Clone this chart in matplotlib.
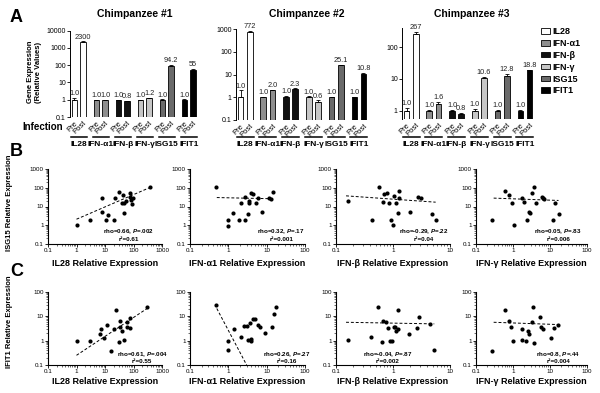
import matplotlib.pyplot as plt
import matplotlib.transforms as mtransforms
import numpy as np
from matplotlib.patches import Patch
from matplotlib.ticker import LogLocator, NullLocator, NullFormatter

plt.rcParams['font.family'] = ['Liberation Sans', 'DejaVu Sans']
plt.rcParams['mathtext.fontset'] = 'custom'
plt.rcParams['mathtext.it'] = 'Liberation Sans:bold:italic'
plt.rcParams['mathtext.rm'] = 'Liberation Sans:bold'

# ---- panel A data ----
genes = ['IL28', 'IFN-α1', 'IFN-β', 'IFN-γ', 'ISG15', 'IFIT1']
gene_colors = ['white', '#8e8e8e', '#111111', '#c6c6c6', '#6a6a6a', '#000000']
chimp_titles = ['Chimpanzee #1', 'Chimpanzee #2', 'Chimpanzee #3']

pre1 = [1.0, 1.0, 1.0, 1.0, 1.0, 1.0]
post1 = [2300, 1.0, 0.8, 1.2, 94.2, 55]
pre1_err = [0.3, 0.03, 0.03, 0.03, 0.08, 0.05]
post1_err = [150, 0.03, 0.04, 0.1, 8, 5]

pre2 = [1.0, 1.0, 1.0, 1.0, 1.0, 1.0]
post2 = [772, 2.0, 2.3, 0.6, 25.1, 10.8]
pre2_err = [1.0, 0.05, 0.15, 0.1, 0.05, 0.05]
post2_err = [40, 0.1, 0.15, 0.12, 2, 0.8]

pre3 = [1.0, 1.0, 1.0, 1.0, 1.0, 1.0]
post3 = [267, 1.6, 0.8, 10.6, 12.8, 18.8]
pre3_err = [0.25, 0.08, 0.04, 0.12, 0.05, 0.05]
post3_err = [40, 0.25, 0.04, 1.0, 1.0, 0.8]

ylims_A = [(0.1, 10000), (0.1, 1000), (0.55, 400)]
yticks_A = [[0.1, 1, 10, 100, 1000, 10000], [0.1, 1, 10, 100, 1000], [1, 10, 100]]

# ---- panel B / C data (x = cytokine, y = ISG15 or IFIT1) ----
b_xlabels = ['IL28 Relative Expression', 'IFN-α1 Relative Expression',
             'IFN-β Relative Expression', 'IFN-γ Relative Expression']

b1_x = [1, 3, 8, 8, 11, 13, 20, 23, 30, 38, 42, 45, 47, 55, 76, 78, 85, 89, 95, 390]
b1_y = [1, 2, 5, 29, 2, 3.6, 1.8, 28, 63, 16, 39, 15, 4.4, 19, 34, 52, 23, 14, 27, 104]
b2_x = [0.47, 1, 1, 1.3, 1.9, 2.1, 2.7, 2.8, 3.2, 3.4, 3.5, 4.0, 4.5, 5.2, 5.8, 7.7, 11.8, 12.7, 14.6]
b2_y = [108, 2, 0.9, 4.4, 2, 14.5, 33, 1.9, 3.9, 19, 16, 52, 46, 15, 28, 5.2, 28, 25, 63]
b3_x = [0.16, 0.42, 0.57, 0.68, 0.7, 0.77, 0.84, 0.92, 1.0, 1.05, 1.13, 1.2, 1.25, 1.3, 2.0, 2.7, 3.05, 4.8, 5.6]
b3_y = [19, 2, 105, 17, 45, 51, 15, 2, 1, 35, 15, 4.5, 29, 65, 5, 31, 27, 4, 1.9]
b4_x = [0.27, 0.62, 0.8, 0.92, 1.05, 1.8, 2.0, 2.4, 2.75, 2.8, 3.3, 3.7, 4.2, 5.9, 6.3, 6.8, 11.7, 14, 17.7]
b4_y = [1.85, 64, 42, 15, 1, 28, 18, 1.9, 4.8, 4.4, 52, 104, 16, 32, 28, 26, 1.9, 15, 3.9]

c1_x = [1, 3, 6.7, 7, 9.2, 11.4, 16, 20, 24.5, 30, 34, 34, 38, 47, 58, 61, 76, 76, 300]
c1_y = [1, 0.95, 1.9, 3.1, 1.3, 4.4, 0.39, 3, 18, 0.85, 6.2, 3.7, 2.6, 1.05, 6, 3.5, 3.2, 8.7, 24]
c2_x = [0.48, 1, 1, 1.4, 2.1, 2.5, 3.1, 3.2, 3.7, 3.8, 3.9, 4.5, 5.1, 6.1, 6.7, 8.9, 13.8, 15.5, 17]
c2_y = [30, 1.0, 0.4, 3, 1.45, 4, 4.2, 1.05, 5.5, 1.0, 1.2, 7.5, 8, 4.4, 3.7, 2.1, 3.7, 12, 25]
c3_x = [0.16, 0.41, 0.55, 0.64, 0.68, 0.75, 0.82, 0.88, 0.95, 1.05, 1.08, 1.13, 1.2, 1.24, 1.9, 2.6, 2.9, 4.5, 5.3]
c3_y = [1.1, 1.35, 24, 0.86, 6.3, 6, 3.4, 0.95, 1.0, 3.8, 3.5, 2.6, 3.1, 18.5, 1.9, 3.2, 9, 4.7, 0.4]
c4_x = [0.27, 0.62, 0.76, 0.88, 1.02, 1.75, 1.8, 2.2, 2.6, 2.64, 3.25, 3.5, 3.8, 5.4, 5.6, 6.3, 10.8, 12.7, 16.3]
c4_y = [0.39, 18, 6.3, 3.7, 1.0, 3, 1.05, 0.94, 2.6, 1.9, 5.6, 24, 0.83, 9, 3.5, 3.1, 1.3, 3.2, 4.5]

# dashed fit lines as drawn in the figure (end points)
b_fit_x = [[1, 390], [0.5, 13], [0.15, 5.6], [0.3, 17]]
b_fit_y = [[2.1, 105], [30, 26], [37, 17], [28, 21]]
c_fit_x = [[1, 300], [0.5, 3.0], [0.15, 5.3], [0.3, 16]]
c_fit_y = [[0.25, 21], [21, 0.1], [5.7, 4.9], [5.7, 4.6]]

b_stats = [('0.66', '.002', '0.61'), ('0.32', '.17', '0.001'),
           ('-0.29', '.22', '0.04'), ('0.05', '.83', '0.006')]
c_stats = [('0.61', '.004', '0.55'), ('0.26', '.27', '0.16'),
           ('-0.04', '.87', '0.002'), ('0.8', '.44', '0.004')]

scatter_xmax = [1000, 100, 10, 100]


def fmt_val(v):
    if v >= 10 and v == int(v):
        return str(int(v))
    return f'{v:.1f}'


def fmt_tick(t):
    return f'{t:g}'


fig = plt.figure(figsize=(6, 3.93), dpi=100)
W, H = 600.0, 393.0


def rect(left, top, width, height):
    return [left / W, 1 - (top + height) / H, width / W, height / H]


# ---------------- panel A ----------------
a_rects = [rect(70, 30.7, 127.6, 86.3), rect(236, 29, 132, 91), rect(402, 28, 132, 91)]
a_data = [(pre1, post1, pre1_err, post1_err), (pre2, post2, pre2_err, post2_err),
          (pre3, post3, pre3_err, post3_err)]
title_x = [135, 307, 472]
idx = np.arange(len(genes))
bw = 0.25
for k in range(3):
    ax = fig.add_axes(a_rects[k])
    pre, post, pe, qe = a_data[k]
    ymin, ymax = ylims_A[k]
    ax.set_yscale('log')
    xs_pre = idx - 0.2
    xs_post = idx + 0.2
    for xs, vals, errs in [(xs_pre, pre, pe), (xs_post, post, qe)]:
        vals = np.array(vals, dtype=float)
        ax.bar(xs, vals - ymin, bottom=ymin, width=bw, color=gene_colors,
               edgecolor='black', linewidth=0.6, zorder=2)
        ax.errorbar(xs, vals, yerr=[np.zeros(len(vals)), errs], fmt='none',
                    ecolor='black', elinewidth=0.6, capsize=1.2, capthick=0.6, zorder=3)
        for x, v, e in zip(xs, vals, errs):
            ax.text(x, (v + e) * 1.08, fmt_val(v), ha='center', va='bottom',
                    fontsize=5.3, color='#222222')
    ax.set_ylim(ymin, ymax)
    ax.set_xlim(-0.4, len(genes) - 0.6)
    ax.set_yticks(yticks_A[k])
    ax.set_yticklabels([fmt_tick(t) for t in yticks_A[k]], fontsize=5)
    ax.yaxis.set_minor_locator(NullLocator())
    ax.tick_params(axis='y', length=2, width=0.6, pad=1)
    ax.set_xticks(np.concatenate([xs_pre, xs_post]))
    ax.set_xticklabels(['Pre'] * 6 + ['Post'] * 6, rotation=45, ha='right',
                       rotation_mode='anchor', fontsize=5.5)
    ax.tick_params(axis='x', length=0, pad=2)
    for s in ['top', 'right', 'bottom']:
        ax.spines[s].set_visible(False)
    ax.spines['left'].set_linewidth(0.7)
    trans = mtransforms.blended_transform_factory(ax.transData, fig.transFigure)
    for i, g in enumerate(genes):
        ax.plot([i - 0.37, i + 0.37], [1 - 137 / H] * 2, color='black', lw=1.1,
                transform=trans, clip_on=False)
        ax.text(i, 1 - 145 / H, g, transform=trans, ha='center', va='center',
                fontsize=6, fontweight='bold')
    fig.text(title_x[k] / W, 1 - 14 / H, chimp_titles[k], ha='center', va='center',
             fontsize=7.5, fontweight='bold')

fig.text(34 / W, 1 - 72 / H, 'Gene Expression\n(Relative Values)', rotation=90,
         ha='center', va='center', fontsize=5.5, fontweight='bold', multialignment='center')
fig.text(63 / W, 1 - 127 / H, 'Infection', ha='right', va='center', fontsize=7,
         fontweight='bold')

handles = [Patch(facecolor=c, edgecolor='black', linewidth=0.6) for c in gene_colors]
fig.legend(handles, genes, loc='upper left', bbox_to_anchor=(541 / W, 1 - 27 / H),
           frameon=False, fontsize=6.5, prop={'weight': 'bold', 'size': 6.5},
           handlelength=1.0, handleheight=0.6, handletextpad=0.3, labelspacing=0.32,
           borderaxespad=0, borderpad=0)

# ---------------- panels B and C ----------------
col_rects = [(48, 114), (190, 115), (336, 114), (476, 111)]
b_xy = [(b1_x, b1_y), (b2_x, b2_y), (b3_x, b3_y), (b4_x, b4_y)]
c_xy = [(c1_x, c1_y), (c2_x, c2_y), (c3_x, c3_y), (c4_x, c4_y)]
b_anno = [(0.93, 0.125), (1.0, 0.125), (0.99, 0.125), (0.955, 0.125)]
c_anno = [(1.05, 0.11), (1.05, 0.11), (0.67, 0.11), (0.94, 0.11)]

rows = [
    (169, 75, 1000, b_xy, b_fit_x, b_fit_y, b_stats, b_anno, 263),
    (292, 73, 100, c_xy, c_fit_x, c_fit_y, c_stats, c_anno, 382),
]
for top, hgt, ymax, xy, fx, fy, stats, anno, xl_y in rows:
    for k in range(4):
        left, wid = col_rects[k]
        ax = fig.add_axes(rect(left, top, wid, hgt))
        ax.set_xscale('log')
        ax.set_yscale('log')
        x, y = xy[k]
        ax.plot(fx[k], fy[k], linestyle=(0, (3, 2)), color='black', lw=0.7, zorder=2)
        ax.scatter(x, y, s=9, color='black', zorder=3, linewidths=0)
        ax.set_xlim(0.1, scatter_xmax[k])
        ax.set_ylim(0.1, ymax)
        xt = [t for t in [0.1, 1, 10, 100, 1000] if t <= scatter_xmax[k]]
        yt = [t for t in [0.1, 1, 10, 100, 1000] if t <= ymax]
        ax.set_xticks(xt)
        ax.set_xticklabels([fmt_tick(t) for t in xt], fontsize=4.5)
        ax.set_yticks(yt)
        ax.set_yticklabels([fmt_tick(t) for t in yt], fontsize=4.5)
        for axis in [ax.xaxis, ax.yaxis]:
            axis.set_minor_locator(LogLocator(base=10, subs=np.arange(2, 10)))
            axis.set_minor_formatter(NullFormatter())
        ax.tick_params(which='major', length=2, width=0.6, pad=1)
        ax.tick_params(which='minor', length=1.1, width=0.4)
        for s in ['top', 'right']:
            ax.spines[s].set_visible(False)
        for s in ['left', 'bottom']:
            ax.spines[s].set_linewidth(0.8)
        rho, p, r2 = stats[k]
        ax.text(anno[k][0], anno[k][1], f'rho={rho}, $P$={p}\nr²={r2}',
                transform=ax.transAxes, ha='right', va='center', fontsize=4.5,
                fontweight='bold', multialignment='center', linespacing=1.15)
        fig.text((left + wid / 2) / W, 1 - xl_y / H, b_xlabels[k], ha='center',
                 va='center', fontsize=6.5, fontweight='bold')

fig.text(10 / W, 1 - 203 / H, 'ISG15 Relative Expression', rotation=90, ha='center',
         va='center', fontsize=5.5, fontweight='bold')
fig.text(10 / W, 1 - 322 / H, 'IFIT1 Relative Expression', rotation=90, ha='center',
         va='center', fontsize=5.5, fontweight='bold')

for lab, yy in [('A', 17), ('B', 152), ('C', 272)]:
    fig.text(10 / W, 1 - yy / H, lab, ha='left', va='center', fontsize=13,
             fontweight='bold')

fig.savefig('out.png', dpi=100)
